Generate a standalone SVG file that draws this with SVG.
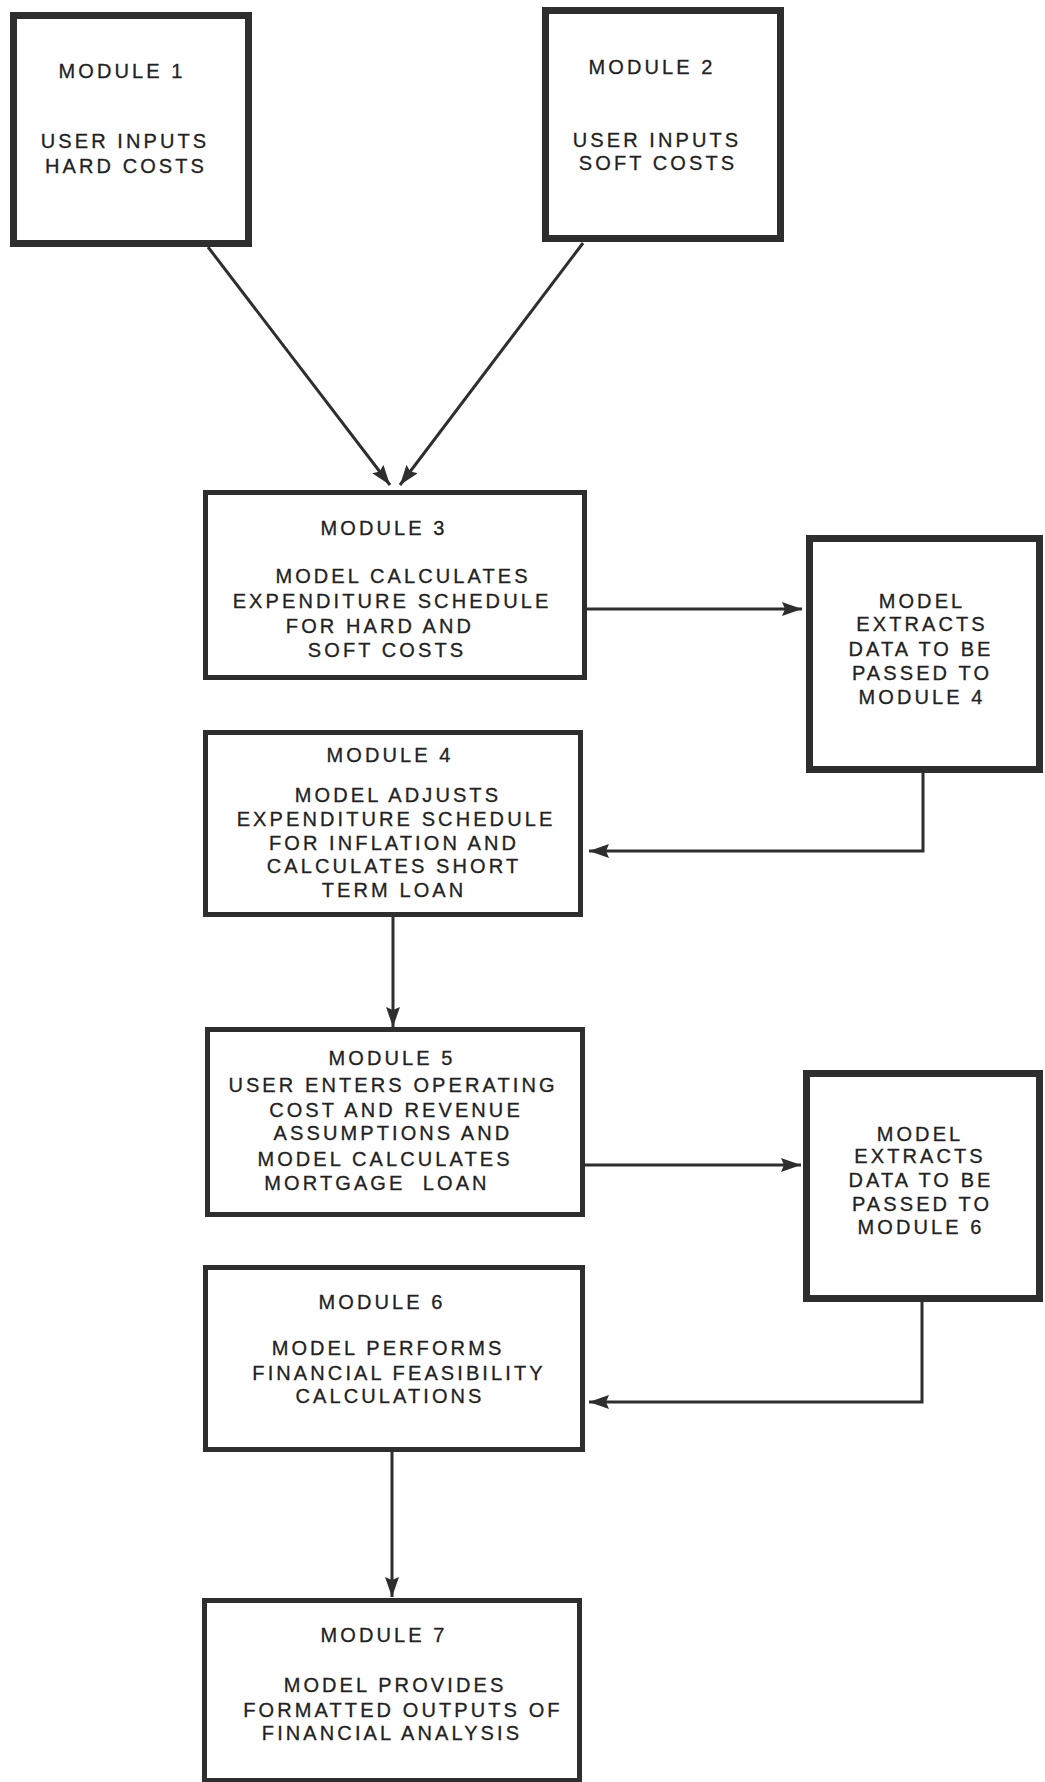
<svg xmlns="http://www.w3.org/2000/svg" width="1045" height="1782" viewBox="0 0 1045 1782">
<style>
.bx{fill:#fff;stroke:#2e2e2e;stroke-width:5}
.thick{stroke-width:7}
.t{font-family:"Liberation Sans",Arial,sans-serif;font-size:20px;letter-spacing:3.1px;fill:#222;stroke:#222;stroke-width:0.3;text-anchor:middle}
.c{fill:none;stroke:#2e2e2e;stroke-width:3}
</style>
<defs>
<marker id="ah" markerUnits="userSpaceOnUse" markerWidth="22" markerHeight="14" refX="20" refY="7" orient="auto">
<path d="M0,0 L20,7 L0,14 L3,7 z" fill="#2e2e2e"/>
</marker>
</defs>
<rect width="1045" height="1782" fill="#fff"/>
<g id="connectors">
<line class="c" x1="208" y1="247" x2="390" y2="485" marker-end="url(#ah)"/>
<line class="c" x1="583" y1="243" x2="400" y2="485" marker-end="url(#ah)"/>
<line class="c" x1="587" y1="609" x2="802" y2="609" marker-end="url(#ah)"/>
<polyline class="c" points="923,773 923,851 589,851" marker-end="url(#ah)"/>
<line class="c" x1="393" y1="917" x2="393" y2="1027" marker-end="url(#ah)"/>
<line class="c" x1="585" y1="1165" x2="801" y2="1165" marker-end="url(#ah)"/>
<polyline class="c" points="922,1302 922,1402 589,1402" marker-end="url(#ah)"/>
<line class="c" x1="392" y1="1452" x2="392" y2="1597" marker-end="url(#ah)"/>
</g>
<g id="module1">
<rect class="bx thick" x="13.5" y="15.5" width="235" height="228"/>
<text class="t" x="122" y="78">MODULE 1</text>
<text class="t" x="125" y="148">USER INPUTS</text>
<text class="t" x="126" y="173">HARD COSTS</text>
</g>
<g id="module2">
<rect class="bx thick" x="545.5" y="10.5" width="235" height="228"/>
<text class="t" x="652" y="74">MODULE 2</text>
<text class="t" x="657" y="147">USER INPUTS</text>
<text class="t" x="658" y="170">SOFT COSTS</text>
</g>
<g id="module3">
<rect class="bx" x="205.5" y="492.5" width="379" height="185"/>
<text class="t" x="384" y="535">MODULE 3</text>
<text class="t" x="403" y="583">MODEL CALCULATES</text>
<text class="t" x="392" y="608">EXPENDITURE SCHEDULE</text>
<text class="t" x="380" y="633">FOR HARD AND</text>
<text class="t" x="387" y="657">SOFT COSTS</text>
</g>
<g id="extract4">
<rect class="bx thick" x="809.5" y="538.5" width="230" height="231"/>
<text class="t" x="922" y="608">MODEL</text>
<text class="t" x="922" y="631">EXTRACTS</text>
<text class="t" x="921" y="656">DATA TO BE</text>
<text class="t" x="922" y="680">PASSED TO</text>
<text class="t" x="922" y="704">MODULE 4</text>
</g>
<g id="module4">
<rect class="bx" x="205.5" y="732.5" width="375" height="182"/>
<text class="t" x="390" y="762">MODULE 4</text>
<text class="t" x="398" y="802">MODEL ADJUSTS</text>
<text class="t" x="396" y="826">EXPENDITURE SCHEDULE</text>
<text class="t" x="394" y="850">FOR INFLATION AND</text>
<text class="t" x="394" y="873">CALCULATES SHORT</text>
<text class="t" x="394" y="897">TERM LOAN</text>
</g>
<g id="module5">
<rect class="bx" x="207.5" y="1029.5" width="375" height="185"/>
<text class="t" x="392" y="1065">MODULE 5</text>
<text class="t" x="393" y="1092">USER ENTERS OPERATING</text>
<text class="t" x="396" y="1117">COST AND REVENUE</text>
<text class="t" x="393" y="1140">ASSUMPTIONS AND</text>
<text class="t" x="385" y="1166">MODEL CALCULATES</text>
<text class="t" x="377" y="1190" style="white-space:pre">MORTGAGE  LOAN</text>
</g>
<g id="extract6">
<rect class="bx thick" x="806.5" y="1073.5" width="233" height="225"/>
<text class="t" x="920" y="1141">MODEL</text>
<text class="t" x="920" y="1163">EXTRACTS</text>
<text class="t" x="921" y="1187">DATA TO BE</text>
<text class="t" x="922" y="1211">PASSED TO</text>
<text class="t" x="921" y="1234">MODULE 6</text>
</g>
<g id="module6">
<rect class="bx" x="205.5" y="1267.5" width="377" height="182"/>
<text class="t" x="382" y="1309">MODULE 6</text>
<text class="t" x="388" y="1355">MODEL PERFORMS</text>
<text class="t" x="399" y="1380">FINANCIAL FEASIBILITY</text>
<text class="t" x="390" y="1403">CALCULATIONS</text>
</g>
<g id="module7">
<rect class="bx" x="204.5" y="1600.5" width="375" height="180"/>
<text class="t" x="384" y="1642">MODULE 7</text>
<text class="t" x="395" y="1692">MODEL PROVIDES</text>
<text class="t" x="403" y="1717">FORMATTED OUTPUTS OF</text>
<text class="t" x="392" y="1740">FINANCIAL ANALYSIS</text>
</g>
</svg>
